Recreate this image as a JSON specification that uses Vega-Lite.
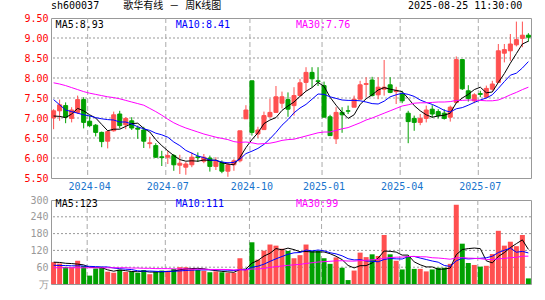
{
"$schema": "https://vega.github.io/schema/vega-lite/v6.json",
"background": "#ffffff",
"padding": {"left": 23, "top": 0, "right": 0, "bottom": 0},
"autosize": {"type": "pad"},
"spacing": 22,
"bounds": "flush",
"config": {
  "view": {"stroke": "#999999", "strokeWidth": 1},
  "axis": {"labelFont": "DejaVu Sans Mono", "labelFontSize": 10, "ticks": false, "domain": false, "grid": false, "labelPadding": 3, "labelOverlap": false}
},
"datasets": {
"gp": [{"g":6},{"g":6.5},{"g":7},{"g":7.5},{"g":8},{"g":8.5},{"g":9}],
"gv": [{"g":60},{"g":120},{"g":180},{"g":240}],
"gx": [{"d":"2024-04-03"},{"d":"2024-07-05"},{"d":"2024-10-11"},{"d":"2025-01-03"},{"d":"2025-04-03"},{"d":"2025-07-04"}],
"k": [
{"d":"2024-02-23","o":7.00,"h":7.22,"l":6.72,"c":7.18,"ma5":7.05,"ma10":7.46,"ma30":7.88,"vol":78,"vma5":78,"vma10":67,"vma30":58},
{"d":"2024-03-01","o":7.18,"h":7.46,"l":6.93,"c":7.33,"ma5":7.04,"ma10":7.33,"ma30":7.85,"vol":73,"vma5":77,"vma10":66,"vma30":58},
{"d":"2024-03-08","o":7.31,"h":7.39,"l":6.87,"c":7.02,"ma5":7.01,"ma10":7.20,"ma30":7.81,"vol":61,"vma5":74,"vma10":66,"vma30":58},
{"d":"2024-03-15","o":6.99,"h":7.27,"l":6.89,"c":7.20,"ma5":7.10,"ma10":7.16,"ma30":7.76,"vol":60,"vma5":73,"vma10":65,"vma30":58},
{"d":"2024-03-22","o":7.14,"h":7.56,"l":7.10,"c":7.46,"ma5":7.24,"ma10":7.12,"ma30":7.71,"vol":83,"vma5":71,"vma10":65,"vma30":58},
{"d":"2024-03-29","o":7.46,"h":7.52,"l":6.74,"c":6.89,"ma5":7.18,"ma10":7.08,"ma30":7.66,"vol":64,"vma5":68.2,"vma10":64,"vma30":58},
{"d":"2024-04-03","o":6.92,"h":7.06,"l":6.77,"c":6.81,"ma5":7.08,"ma10":7.05,"ma30":7.62,"vol":30,"vma5":59.6,"vma10":63,"vma30":58},
{"d":"2024-04-12","o":6.82,"h":6.85,"l":6.54,"c":6.64,"ma5":7.00,"ma10":7.01,"ma30":7.59,"vol":55,"vma5":58.4,"vma10":62,"vma30":58},
{"d":"2024-04-19","o":6.64,"h":6.66,"l":6.27,"c":6.41,"ma5":6.84,"ma10":6.98,"ma30":7.56,"vol":60,"vma5":58.4,"vma10":61,"vma30":58},
{"d":"2024-04-26","o":6.42,"h":6.68,"l":6.24,"c":6.66,"ma5":6.68,"ma10":6.96,"ma30":7.53,"vol":44,"vma5":50.6,"vma10":60.8,"vma30":58},
{"d":"2024-04-30","o":6.68,"h":7.16,"l":6.66,"c":7.08,"ma5":6.72,"ma10":6.95,"ma30":7.51,"vol":40,"vma5":45.8,"vma10":57,"vma30":58},
{"d":"2024-05-10","o":7.10,"h":7.18,"l":6.74,"c":6.81,"ma5":6.72,"ma10":6.90,"ma30":7.48,"vol":51,"vma5":50,"vma10":54.8,"vma30":58},
{"d":"2024-05-17","o":6.83,"h":7.02,"l":6.72,"c":6.99,"ma5":6.79,"ma10":6.90,"ma30":7.44,"vol":43,"vma5":47.6,"vma10":53,"vma30":58},
{"d":"2024-05-24","o":6.93,"h":7.02,"l":6.70,"c":6.75,"ma5":6.86,"ma10":6.85,"ma30":7.40,"vol":45,"vma5":44.6,"vma10":51.5,"vma30":57},
{"d":"2024-05-31","o":6.75,"h":6.81,"l":6.48,"c":6.72,"ma5":6.87,"ma10":6.78,"ma30":7.36,"vol":40,"vma5":43.8,"vma10":47.2,"vma30":57},
{"d":"2024-06-07","o":6.70,"h":6.78,"l":6.25,"c":6.42,"ma5":6.74,"ma10":6.73,"ma30":7.32,"vol":50,"vma5":45.8,"vma10":45.8,"vma30":56},
{"d":"2024-06-14","o":6.36,"h":6.53,"l":6.24,"c":6.38,"ma5":6.65,"ma10":6.69,"ma30":7.24,"vol":35,"vma5":42.6,"vma10":46.3,"vma30":56},
{"d":"2024-06-21","o":6.31,"h":6.37,"l":6.00,"c":6.02,"ma5":6.46,"ma10":6.62,"ma30":7.16,"vol":45,"vma5":43,"vma10":45.3,"vma30":55},
{"d":"2024-06-28","o":6.03,"h":6.18,"l":5.80,"c":6.01,"ma5":6.31,"ma10":6.58,"ma30":7.07,"vol":48,"vma5":43.6,"vma10":44.1,"vma30":55},
{"d":"2024-07-05","o":6.02,"h":6.18,"l":5.85,"c":6.06,"ma5":6.18,"ma10":6.52,"ma30":6.97,"vol":47,"vma5":45,"vma10":44.4,"vma30":55},
{"d":"2024-07-12","o":6.06,"h":6.10,"l":5.68,"c":5.83,"ma5":6.06,"ma10":6.40,"ma30":6.88,"vol":54,"vma5":45.8,"vma10":45.8,"vma30":54},
{"d":"2024-07-19","o":5.82,"h":6.08,"l":5.60,"c":5.87,"ma5":5.96,"ma10":6.31,"ma30":6.81,"vol":60,"vma5":50.8,"vma10":46.7,"vma30":54},
{"d":"2024-07-26","o":5.77,"h":5.90,"l":5.58,"c":5.85,"ma5":5.92,"ma10":6.19,"ma30":6.75,"vol":60,"vma5":53.8,"vma10":48.4,"vma30":54},
{"d":"2024-08-02","o":5.83,"h":6.14,"l":5.77,"c":6.02,"ma5":5.93,"ma10":6.12,"ma30":6.70,"vol":55,"vma5":55.2,"vma10":49.4,"vma30":53},
{"d":"2024-08-09","o":6.03,"h":6.14,"l":5.90,"c":6.01,"ma5":5.92,"ma10":6.05,"ma30":6.65,"vol":50,"vma5":55.8,"vma10":50.4,"vma30":53},
{"d":"2024-08-16","o":5.92,"h":6.10,"l":5.87,"c":6.02,"ma5":5.95,"ma10":6.01,"ma30":6.60,"vol":47,"vma5":54.4,"vma10":50.1,"vma30":53},
{"d":"2024-08-23","o":6.00,"h":6.06,"l":5.66,"c":5.79,"ma5":5.94,"ma10":5.95,"ma30":6.56,"vol":42,"vma5":50.8,"vma10":50.8,"vma30":52},
{"d":"2024-08-30","o":5.79,"h":6.02,"l":5.70,"c":5.92,"ma5":5.95,"ma10":5.94,"ma30":6.52,"vol":45,"vma5":47.8,"vma10":50.8,"vma30":52},
{"d":"2024-09-06","o":5.89,"h":5.94,"l":5.62,"c":5.67,"ma5":5.88,"ma10":5.90,"ma30":6.49,"vol":42,"vma5":45.2,"vma10":50.2,"vma30":52},
{"d":"2024-09-13","o":5.67,"h":5.90,"l":5.53,"c":5.83,"ma5":5.85,"ma10":5.88,"ma30":6.46,"vol":40,"vma5":43.2,"vma10":49.5,"vma30":51.6},
{"d":"2024-09-20","o":5.83,"h":5.97,"l":5.68,"c":5.93,"ma5":5.83,"ma10":5.89,"ma30":6.41,"vol":40,"vma5":41.8,"vma10":48.1,"vma30":50.3},
{"d":"2024-09-27","o":5.93,"h":6.68,"l":5.89,"c":6.68,"ma5":6.01,"ma10":5.97,"ma30":6.39,"vol":92,"vma5":51.8,"vma10":51.3,"vma30":50.9},
{"d":"2024-09-30","o":6.98,"h":7.32,"l":6.98,"c":7.20,"ma5":6.26,"ma10":6.11,"ma30":6.40,"vol":52,"vma5":53.2,"vma10":50.5,"vma30":50.6},
{"d":"2024-10-11","o":7.93,"h":7.93,"l":6.56,"c":6.64,"ma5":6.46,"ma10":6.17,"ma30":6.38,"vol":149,"vma5":74.6,"vma10":59.9,"vma30":53.6},
{"d":"2024-10-18","o":6.60,"h":6.78,"l":6.50,"c":6.70,"ma5":6.63,"ma10":6.24,"ma30":6.35,"vol":87,"vma5":84,"vma10":63.6,"vma30":53.7},
{"d":"2024-10-25","o":6.71,"h":7.16,"l":6.71,"c":7.06,"ma5":6.86,"ma10":6.34,"ma30":6.36,"vol":119,"vma5":99.8,"vma10":70.8,"vma30":55.6},
{"d":"2024-11-01","o":7.03,"h":7.48,"l":7.02,"c":7.14,"ma5":6.95,"ma10":6.48,"ma30":6.37,"vol":141,"vma5":109.6,"vma10":80.7,"vma30":59.3},
{"d":"2024-11-08","o":7.14,"h":7.80,"l":7.14,"c":7.53,"ma5":7.01,"ma10":6.64,"ma30":6.40,"vol":137,"vma5":126.6,"vma10":89.9,"vma30":62},
{"d":"2024-11-15","o":7.37,"h":7.66,"l":7.24,"c":7.53,"ma5":7.19,"ma10":6.82,"ma30":6.44,"vol":126,"vma5":122,"vma10":98.3,"vma30":64.2},
{"d":"2024-11-22","o":7.46,"h":7.64,"l":7.03,"c":7.22,"ma5":7.30,"ma10":6.96,"ma30":6.46,"vol":118,"vma5":128.2,"vma10":106.1,"vma30":66.7},
{"d":"2024-11-29","o":7.31,"h":7.77,"l":7.06,"c":7.56,"ma5":7.40,"ma10":7.13,"ma30":6.47,"vol":92,"vma5":122.8,"vma10":111.3,"vma30":68.4},
{"d":"2024-12-06","o":7.56,"h":7.98,"l":7.56,"c":7.88,"ma5":7.54,"ma10":7.25,"ma30":6.51,"vol":103,"vma5":115.2,"vma10":112.4,"vma30":70.1},
{"d":"2024-12-13","o":7.89,"h":8.27,"l":7.68,"c":8.14,"ma5":7.67,"ma10":7.34,"ma30":6.55,"vol":141,"vma5":116,"vma10":121.3,"vma30":73.4},
{"d":"2024-12-20","o":8.14,"h":8.27,"l":7.77,"c":7.98,"ma5":7.76,"ma10":7.47,"ma30":6.59,"vol":118,"vma5":114.4,"vma10":118.2,"vma30":75.8},
{"d":"2024-12-27","o":7.93,"h":8.27,"l":7.80,"c":7.91,"ma5":7.89,"ma10":7.60,"ma30":6.63,"vol":118,"vma5":114.4,"vma10":121.3,"vma30":78.4},
{"d":"2025-01-03","o":7.81,"h":7.91,"l":7.02,"c":7.02,"ma5":7.79,"ma10":7.59,"ma30":6.65,"vol":92,"vma5":114.4,"vma10":118.6,"vma30":79.8},
{"d":"2025-01-10","o":7.03,"h":7.08,"l":6.56,"c":6.56,"ma5":7.52,"ma10":7.53,"ma30":6.65,"vol":72,"vma5":108.2,"vma10":111.7,"vma30":81.1},
{"d":"2025-01-17","o":6.48,"h":7.27,"l":6.35,"c":7.14,"ma5":7.32,"ma10":7.49,"ma30":6.69,"vol":95,"vma5":99,"vma10":107.5,"vma30":82.7},
{"d":"2025-01-24","o":7.14,"h":7.27,"l":6.63,"c":7.08,"ma5":7.14,"ma10":7.45,"ma30":6.73,"vol":58,"vma5":87,"vma10":100.7,"vma30":83.1},
{"d":"2025-01-27","o":7.18,"h":7.31,"l":7.10,"c":7.17,"ma5":6.99,"ma10":7.44,"ma30":6.76,"vol":14,"vma5":66.2,"vma10":90.3,"vma30":82},
{"d":"2025-02-07","o":7.27,"h":7.56,"l":7.27,"c":7.47,"ma5":7.08,"ma10":7.44,"ma30":6.82,"vol":48,"vma5":57.4,"vma10":85.9,"vma30":81.8},
{"d":"2025-02-14","o":7.47,"h":7.93,"l":7.47,"c":7.83,"ma5":7.34,"ma10":7.43,"ma30":6.88,"vol":112,"vma5":65.4,"vma10":86.8,"vma30":83.5},
{"d":"2025-02-21","o":7.84,"h":8.02,"l":7.52,"c":7.86,"ma5":7.48,"ma10":7.40,"ma30":6.95,"vol":96,"vma5":65.6,"vma10":82.3,"vma30":84.7},
{"d":"2025-02-28","o":7.95,"h":8.03,"l":7.54,"c":7.56,"ma5":7.58,"ma10":7.36,"ma30":7.00,"vol":106,"vma5":75.2,"vma10":81.1,"vma30":86.4},
{"d":"2025-03-07","o":7.58,"h":8.02,"l":7.47,"c":7.77,"ma5":7.70,"ma10":7.35,"ma30":7.06,"vol":100,"vma5":92.4,"vma10":79.3,"vma30":88.1},
{"d":"2025-03-14","o":7.72,"h":8.45,"l":7.56,"c":7.77,"ma5":7.76,"ma10":7.42,"ma30":7.12,"vol":175,"vma5":117.8,"vma10":87.6,"vma30":92.3},
{"d":"2025-03-21","o":7.83,"h":8.02,"l":7.62,"c":7.64,"ma5":7.72,"ma10":7.53,"ma30":7.18,"vol":106,"vma5":116.6,"vma10":91,"vma30":94.5},
{"d":"2025-03-28","o":7.66,"h":7.78,"l":7.35,"c":7.69,"ma5":7.69,"ma10":7.58,"ma30":7.24,"vol":83,"vma5":114,"vma10":89.8,"vma30":95.7},
{"d":"2025-04-03","o":7.60,"h":7.68,"l":7.37,"c":7.43,"ma5":7.66,"ma10":7.62,"ma30":7.30,"vol":52,"vma5":103.2,"vma10":89.2,"vma30":96.1},
{"d":"2025-04-11","o":7.12,"h":7.18,"l":6.37,"c":6.91,"ma5":7.49,"ma10":7.59,"ma30":7.33,"vol":100,"vma5":103.2,"vma10":97.8,"vma30":98.1},
{"d":"2025-04-18","o":6.99,"h":7.06,"l":6.68,"c":6.89,"ma5":7.31,"ma10":7.54,"ma30":7.37,"vol":54,"vma5":79,"vma10":98.4,"vma30":98.5},
{"d":"2025-04-25","o":6.89,"h":7.10,"l":6.82,"c":6.99,"ma5":7.18,"ma10":7.45,"ma30":7.38,"vol":54,"vma5":68.6,"vma10":92.6,"vma30":97.3},
{"d":"2025-04-30","o":6.99,"h":7.31,"l":6.89,"c":7.20,"ma5":7.08,"ma10":7.39,"ma30":7.38,"vol":45,"vma5":61,"vma10":87.5,"vma30":97},
{"d":"2025-05-09","o":7.22,"h":7.32,"l":7.01,"c":7.10,"ma5":7.02,"ma10":7.34,"ma30":7.39,"vol":52,"vma5":61,"vma10":82.1,"vma30":93.8},
{"d":"2025-05-16","o":7.16,"h":7.22,"l":6.99,"c":7.06,"ma5":7.05,"ma10":7.27,"ma30":7.40,"vol":58,"vma5":52.6,"vma10":77.9,"vma30":92.8},
{"d":"2025-05-23","o":7.12,"h":7.22,"l":6.96,"c":6.99,"ma5":7.07,"ma10":7.19,"ma30":7.40,"vol":58,"vma5":53.4,"vma10":66.2,"vma30":90.8},
{"d":"2025-05-30","o":7.02,"h":7.31,"l":6.91,"c":7.27,"ma5":7.12,"ma10":7.15,"ma30":7.41,"vol":72,"vma5":57,"vma10":62.8,"vma30":88.5},
{"d":"2025-06-06","o":7.39,"h":8.54,"l":7.37,"c":8.46,"ma5":7.38,"ma10":7.23,"ma30":7.44,"vol":283,"vma5":104.6,"vma10":82.8,"vma30":93.4},
{"d":"2025-06-13","o":8.46,"h":8.46,"l":7.70,"c":7.73,"ma5":7.50,"ma10":7.26,"ma30":7.44,"vol":144,"vma5":123,"vma10":92,"vma30":94},
{"d":"2025-06-20","o":7.68,"h":7.82,"l":7.41,"c":7.49,"ma5":7.59,"ma10":7.32,"ma30":7.45,"vol":75,"vma5":126.4,"vma10":89.5,"vma30":92.5},
{"d":"2025-06-27","o":7.43,"h":7.62,"l":7.37,"c":7.58,"ma5":7.71,"ma10":7.39,"ma30":7.45,"vol":68,"vma5":128.4,"vma10":90.9,"vma30":91.7},
{"d":"2025-07-04","o":7.61,"h":7.68,"l":7.52,"c":7.59,"ma5":7.77,"ma10":7.45,"ma30":7.44,"vol":62,"vma5":126.4,"vma10":91.7,"vma30":90.4},
{"d":"2025-07-11","o":7.52,"h":7.81,"l":7.50,"c":7.74,"ma5":7.63,"ma10":7.50,"ma30":7.43,"vol":65,"vma5":82.8,"vma10":93.7,"vma30":87.8},
{"d":"2025-07-18","o":7.72,"h":7.93,"l":7.68,"c":7.85,"ma5":7.65,"ma10":7.58,"ma30":7.43,"vol":107,"vma5":75.4,"vma10":99.2,"vma30":87.5},
{"d":"2025-07-25","o":7.89,"h":8.85,"l":7.89,"c":8.68,"ma5":7.89,"ma10":7.74,"ma30":7.45,"vol":190,"vma5":98.4,"vma10":112.4,"vma30":89.9},
{"d":"2025-08-01","o":8.62,"h":8.85,"l":8.39,"c":8.71,"ma5":8.11,"ma10":7.91,"ma30":7.51,"vol":137,"vma5":112.2,"vma10":120.3,"vma30":91.4},
{"d":"2025-08-08","o":8.68,"h":9.10,"l":8.43,"c":8.85,"ma5":8.37,"ma10":8.07,"ma30":7.58,"vol":151,"vma5":130,"vma10":128.2,"vma30":94},
{"d":"2025-08-15","o":8.83,"h":9.41,"l":8.79,"c":8.96,"ma5":8.61,"ma10":8.12,"ma30":7.64,"vol":135,"vma5":144,"vma10":113.4,"vma30":95.3},
{"d":"2025-08-22","o":8.99,"h":9.41,"l":8.77,"c":9.07,"ma5":8.85,"ma10":8.25,"ma30":7.71,"vol":175,"vma5":157.6,"vma10":116.5,"vma30":99.2},
{"d":"2025-08-25","o":9.07,"h":9.12,"l":8.91,"c":9.02,"ma5":8.92,"ma10":8.41,"ma30":7.77,"vol":20,"vma5":123.6,"vma10":111,"vma30":99.4}
],
"lp": [
{"d":"2024-02-23","p":9.33,"s":"MA5","t":"MA5:8.93"},
{"d":"2024-07-12","p":9.33,"s":"MA10","t":"MA10:8.41"},
{"d":"2024-11-29","p":9.33,"s":"MA30","t":"MA30:7.76"}
],
"lv": [
{"d":"2024-02-23","p":284,"s":"MA5","t":"MA5:123"},
{"d":"2024-07-12","p":284,"s":"MA10","t":"MA10:111"},
{"d":"2024-11-29","p":284,"s":"MA30","t":"MA30:99"}
]
},
"vconcat": [
{
  "width": 480,
  "height": 160,
  "title": {"text": "sh600037\u00a0\u00a0\u00a0\u00a0歌华有线\u00a0－\u00a0周K线图\u00a0\u00a0\u00a0\u00a0\u00a0\u00a0\u00a0\u00a0\u00a0\u00a0\u00a0\u00a0\u00a0\u00a0\u00a0\u00a0\u00a0\u00a0\u00a0\u00a0\u00a0\u00a0\u00a0\u00a0\u00a0\u00a0\u00a0\u00a0\u00a0\u00a0\u00a02025-08-25 11:30:00", "anchor": "start", "frame": "group", "font": "DejaVu Sans Mono, Noto Sans CJK SC", "fontSize": 10, "fontWeight": "normal", "color": "#000000", "offset": 2},
  "layer": [
    {"data": {"name": "gp"},
     "mark": {"type": "rule", "strokeWidth": 1, "strokeDash": [2, 2], "color": "#999999"},
     "encoding": {"y": {"field": "g", "type": "quantitative", "title": null}}},
    {"data": {"name": "gx"},
     "mark": {"type": "rule", "strokeWidth": 1, "strokeDash": [5, 3], "color": "#aaaaaa"},
     "encoding": {"x": {"field": "d", "type": "ordinal", "bandPosition": 0, "title": null}}},
    {"data": {"name": "k"},
     "mark": {"type": "rule", "strokeWidth": 1},
     "encoding": {
       "x": {"field": "d", "type": "ordinal", "title": null,
         "scale": {"paddingInner": 0.33, "paddingOuter": 0.1},
         "axis": {"values": ["2024-04-03","2024-07-05","2024-10-11","2025-01-03","2025-04-03","2025-07-04"], "tickCount": 100, "bandPosition": 0, "labelExpr": "substring(datum.value, 0, 7)", "labelColor": "#1874cd", "labelAngle": 0, "labelAlign": "center", "labelBaseline": "top", "labelPadding": 3, "labelOverlap": false, "labelFlush": false}},
       "y": {"field": "l", "type": "quantitative", "title": null, "scale": {"domain": [5.5, 9.5], "zero": false, "nice": false},
             "axis": {"values": [5.5, 6, 6.5, 7, 7.5, 8, 8.5, 9, 9.5], "tickCount": 100, "format": ".2f", "labelColor": "#ff0000", "labelOverlap": false, "labelFlush": false}},
       "y2": {"field": "h"},
       "color": {"condition": {"test": "datum.c >= datum.o", "value": "#ff5050"}, "value": "#00a000"}}},
    {"data": {"name": "k"},
     "mark": {"type": "bar", "strokeWidth": 1},
     "encoding": {
       "x": {"field": "d", "type": "ordinal", "title": null},
       "y": {"field": "o", "type": "quantitative", "title": null},
       "y2": {"field": "c"},
       "color": {"condition": {"test": "datum.c >= datum.o", "value": "#ff5050"}, "value": "#00a000"},
       "stroke": {"condition": {"test": "datum.c >= datum.o", "value": "#ff5050"}, "value": "#00a000"}}},
    {"data": {"name": "k"},
     "mark": {"type": "line", "color": "#000000", "strokeWidth": 1},
     "encoding": {"x": {"field": "d", "type": "ordinal", "title": null}, "y": {"field": "ma5", "type": "quantitative", "title": null}}},
    {"data": {"name": "k"},
     "mark": {"type": "line", "color": "#0000ff", "strokeWidth": 1},
     "encoding": {"x": {"field": "d", "type": "ordinal", "title": null}, "y": {"field": "ma10", "type": "quantitative", "title": null}}},
    {"data": {"name": "k"},
     "mark": {"type": "line", "color": "#ff00ff", "strokeWidth": 1},
     "encoding": {"x": {"field": "d", "type": "ordinal", "title": null}, "y": {"field": "ma30", "type": "quantitative", "title": null}}},
    {"data": {"name": "lp"},
     "mark": {"type": "text", "align": "left", "baseline": "middle", "dx": 2, "font": "DejaVu Sans Mono", "fontSize": 10},
     "encoding": {
       "x": {"field": "d", "type": "ordinal", "title": null},
       "y": {"field": "p", "type": "quantitative", "title": null},
       "text": {"field": "t"},
       "color": {"field": "s", "type": "nominal", "scale": {"domain": ["MA5", "MA10", "MA30"], "range": ["#000000", "#0000ff", "#ff00ff"]}, "legend": null}}}
  ]
},
{
  "width": 480,
  "height": 84,
  "layer": [
    {"data": {"name": "gv"},
     "mark": {"type": "rule", "strokeWidth": 1, "strokeDash": [2, 2], "color": "#999999"},
     "encoding": {"y": {"field": "g", "type": "quantitative", "title": null}}},
    {"data": {"name": "gx"},
     "mark": {"type": "rule", "strokeWidth": 1, "strokeDash": [5, 3], "color": "#aaaaaa"},
     "encoding": {"x": {"field": "d", "type": "ordinal", "bandPosition": 0, "title": null}}},
    {"data": {"name": "k"},
     "mark": {"type": "bar"},
     "encoding": {
       "x": {"field": "d", "type": "ordinal",
         "scale": {"paddingInner": 0.17, "paddingOuter": 0.02},
         "axis": {"values": ["2024-04-03"], "tickCount": 100, "labels": false,
           "title": "Copyright 2025 SINA.COM\u00a0\u00a0\u00a0\u00a0\u00a0\u00a0\u00a0\u00a0\u00a0\u00a0\u00a0\u00a0\u00a0\u00a0\u00a0\u00a0\u00a0\u00a0\u00a0\u00a0\u00a0\u00a0\u00a0\u00a0\u00a0\u00a0\u00a0\u00a0\u00a0\u00a0\u00a0http://finance.sina.com.cn",
           "titleAnchor": "start", "titleFont": "DejaVu Sans Mono", "titleFontSize": 10, "titleFontWeight": "normal", "titleColor": "#444444", "titlePadding": 1}},
       "y": {"field": "vol", "type": "quantitative", "title": null, "scale": {"domain": [0, 300], "nice": false},
             "axis": {"values": [0, 60, 120, 180, 240, 300], "tickCount": 100, "labelExpr": "datum.value == 0 ? '万' : datum.label", "labelColor": "#999999", "labelOverlap": false, "labelFlush": false}},
       "color": {"condition": {"test": "datum.c >= datum.o", "value": "#ff5050"}, "value": "#00a000"}}},
    {"data": {"name": "k"},
     "mark": {"type": "line", "color": "#000000", "strokeWidth": 1},
     "encoding": {"x": {"field": "d", "type": "ordinal"}, "y": {"field": "vma5", "type": "quantitative", "title": null}}},
    {"data": {"name": "k"},
     "mark": {"type": "line", "color": "#0000ff", "strokeWidth": 1},
     "encoding": {"x": {"field": "d", "type": "ordinal"}, "y": {"field": "vma10", "type": "quantitative", "title": null}}},
    {"data": {"name": "k"},
     "mark": {"type": "line", "color": "#ff00ff", "strokeWidth": 1},
     "encoding": {"x": {"field": "d", "type": "ordinal"}, "y": {"field": "vma30", "type": "quantitative", "title": null}}},
    {"data": {"name": "lv"},
     "mark": {"type": "text", "align": "left", "baseline": "middle", "dx": 2, "font": "DejaVu Sans Mono", "fontSize": 10},
     "encoding": {
       "x": {"field": "d", "type": "ordinal"},
       "y": {"field": "p", "type": "quantitative", "title": null},
       "text": {"field": "t"},
       "color": {"field": "s", "type": "nominal", "scale": {"domain": ["MA5", "MA10", "MA30"], "range": ["#000000", "#0000ff", "#ff00ff"]}, "legend": null}}}
  ]
}
]
}
